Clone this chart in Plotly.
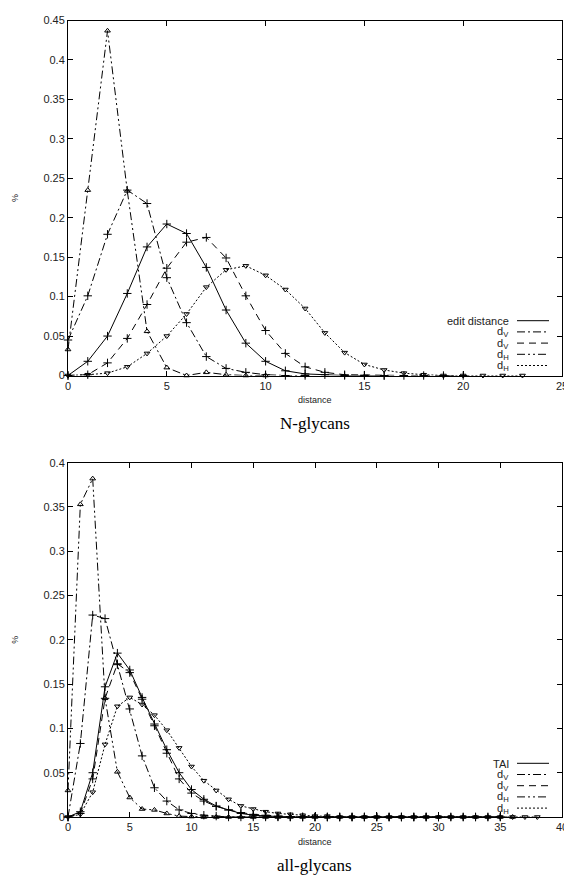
import plotly.graph_objects as go

# ---------------- data: N-glycans (top) ----------------
top_edit = [0, 0.018, 0.05, 0.104, 0.163, 0.192, 0.180, 0.137, 0.083, 0.041, 0.018,
            0.006, 0.002, 0.001, 0, 0, 0]
top_dv1 = [0.045, 0.101, 0.179, 0.235, 0.218, 0.124, 0.067, 0.024, 0.009, 0.004,
           0.001, 0, 0]
top_dv2 = [0, 0.001, 0.016, 0.047, 0.090, 0.136, 0.169, 0.175, 0.149, 0.101, 0.057,
           0.028, 0.011, 0.004, 0.001, 0.0005, 0, 0, 0, 0, 0]
top_dh1 = [0.033, 0.235, 0.437, 0.234, 0.056, 0.010, 0.0, 0.004, 0.001, 0, 0]
top_dh2 = [0, 0.001, 0.003, 0.011, 0.028, 0.050, 0.078, 0.112, 0.134, 0.139, 0.127,
           0.109, 0.085, 0.054, 0.029, 0.014, 0.007, 0.003, 0.001, 0, 0, 0, 0, 0]
top_names = ["edit distance", "d<sub>V</sub>", "d<sub>V</sub>", "d<sub>H</sub>", "d<sub>H</sub>"]

# ---------------- data: all-glycans (bottom) ----------------
bot_tai = [0, 0.006, 0.05, 0.147, 0.185, 0.166, 0.135, 0.105, 0.076, 0.050, 0.031,
           0.020, 0.0124, 0.008, 0.004, 0.002, 0.001, 0.0005, 0, 0, 0, 0, 0, 0, 0,
           0, 0, 0, 0, 0, 0, 0, 0, 0, 0, 0]
bot_dv1 = [0, 0.083, 0.228, 0.224, 0.172, 0.122, 0.069, 0.033, 0.018, 0.008, 0.004,
           0.002, 0.001, 0, 0, 0, 0, 0, 0, 0, 0, 0, 0, 0, 0, 0, 0, 0, 0, 0, 0]
bot_dv2 = [0, 0.004, 0.043, 0.134, 0.173, 0.163, 0.133, 0.103, 0.072, 0.043, 0.027,
           0.018, 0.012, 0.008, 0.005, 0.003, 0.002, 0.001, 0.0005, 0, 0, 0, 0, 0, 0,
           0, 0, 0, 0, 0, 0, 0, 0, 0, 0, 0]
bot_dh1 = [0.030, 0.353, 0.382, 0.134, 0.051, 0.022, 0.009, 0.008, 0.004, 0.001,
           0.0005, 0, 0, 0, 0, 0, 0, 0, 0, 0, 0, 0, 0, 0, 0, 0, 0, 0, 0, 0, 0, 0,
           0, 0, 0, 0, 0]
bot_dh2 = [0, 0.003, 0.028, 0.082, 0.125, 0.135, 0.127, 0.115, 0.098, 0.078, 0.057,
           0.041, 0.030, 0.020, 0.0125, 0.009, 0.006, 0.004, 0.003, 0.002, 0.001,
           0.001, 0, 0, 0, 0, 0, 0, 0, 0, 0, 0, 0, 0, 0, 0, 0, 0, 0]
bot_names = ["TAI", "d<sub>V</sub>", "d<sub>V</sub>", "d<sub>H</sub>", "d<sub>H</sub>"]

x_ticks_top = [0, 5, 10, 15, 20, 25]
x_ticks_bot = [0, 5, 10, 15, 20, 25, 30, 35, 40]

# ---------------- styles ----------------
DASHES = ["solid", "8px,3px,2px,3px", "7px,5px", "8px,3px,2px,3px,2px,3px", "2px,2px"]
SYMBOLS = ["cross-thin-open", "cross-thin-open", "cross-thin-open",
           "triangle-up-open", "triangle-down-open"]
SIZES = [6, 6, 6, 5, 5]
FONT = "Liberation Sans, Arial, Helvetica, sans-serif"

W, H = 564, 889
X0, X1 = 68, 562
TOP_Y0, TOP_Y1 = 20.5, 375.5
BOT_Y0, BOT_Y1 = 462.7, 817.0


def py(p):
    return 1 - p / H


def px(p):
    return p / W


fig = go.Figure()

top_series = [top_edit, top_dv1, top_dv2, top_dh1, top_dh2]
bot_series = [bot_tai, bot_dv1, bot_dv2, bot_dh1, bot_dh2]

for series, xa, ya in [(top_series, "x", "y"), (bot_series, "x2", "y2")]:
    for i, vals in enumerate(series):
        fig.add_trace(go.Scatter(
            x=list(range(len(vals))), y=vals, xaxis=xa, yaxis=ya,
            mode="lines+markers", showlegend=False, cliponaxis=False,
            line=dict(color="black", width=1, dash=DASHES[i]),
            marker=dict(symbol=SYMBOLS[i], size=SIZES[i], color="black",
                        line=dict(color="black", width=1)),
        ))

axis_common = dict(showline=True, linecolor="black", linewidth=1, mirror="allticks",
                   ticks="inside", ticklen=5, tickwidth=1, tickcolor="black",
                   showgrid=False, zeroline=False, ticklabeloverflow="allow",
                   automargin=False,
                   tickfont=dict(family=FONT, size=11, color="#222"))

fig.update_layout(
    width=W, height=H, margin=dict(l=0, r=0, t=0, b=0, autoexpand=False),
    paper_bgcolor="white", plot_bgcolor="white",
    xaxis=dict(domain=[px(X0), px(X1)], range=[0, 25], tickvals=x_ticks_top,
               anchor="y", **axis_common),
    yaxis=dict(domain=[py(TOP_Y1), py(TOP_Y0)], range=[0, 0.45], dtick=0.05,
               tick0=0, anchor="x", **axis_common),
    xaxis2=dict(domain=[px(X0), px(X1)], range=[0, 40], tickvals=x_ticks_bot,
                anchor="y2", **axis_common),
    yaxis2=dict(domain=[py(BOT_Y1), py(BOT_Y0)], range=[0, 0.4], dtick=0.05,
                tick0=0, anchor="x2", **axis_common),
)

annotations = []
shapes = []

# axis titles and captions
for ytop, ybot, caption in [(TOP_Y0, TOP_Y1, "N-glycans"), (BOT_Y0, BOT_Y1, "all-glycans")]:
    annotations.append(dict(text="distance", x=px((X0 + X1) / 2), y=py(ybot + 25),
                            xref="paper", yref="paper", showarrow=False,
                            font=dict(family=FONT, size=9, color="#222"),
                            xanchor="center", yanchor="middle"))
    annotations.append(dict(text="%", x=px(15), y=py((ytop + ybot) / 2),
                            xref="paper", yref="paper", showarrow=False, textangle=-90,
                            font=dict(family=FONT, size=9, color="#222"),
                            xanchor="center", yanchor="middle"))
    annotations.append(dict(text=caption, x=px(315), y=py(ybot + 48),
                            xref="paper", yref="paper", showarrow=False,
                            font=dict(family="Liberation Serif, Times New Roman, serif",
                                      size=17, color="black"),
                            xanchor="center", yanchor="middle"))

# legends (text on the left, line sample on the right, as in gnuplot)
for names, y_start in [(top_names, 320.7), (bot_names, 763.3)]:
    for i, name in enumerate(names):
        yy = y_start + i * 11.2
        annotations.append(dict(text=name, x=px(511), y=py(yy + 0.5), xref="paper",
                                yref="paper", showarrow=False, xanchor="right",
                                yanchor="middle",
                                font=dict(family=FONT, size=11, color="#222")))
        shapes.append(dict(type="line", xref="paper", yref="paper",
                           x0=px(517), x1=px(549), y0=py(yy), y1=py(yy),
                           line=dict(color="black", width=1, dash=DASHES[i])))

fig.update_layout(annotations=annotations, shapes=shapes)
fig.write_html("out.html", config={"displayModeBar": False},
               post_script="document.body.style.margin='0px';"
                           "document.body.style.overflow='hidden';")
